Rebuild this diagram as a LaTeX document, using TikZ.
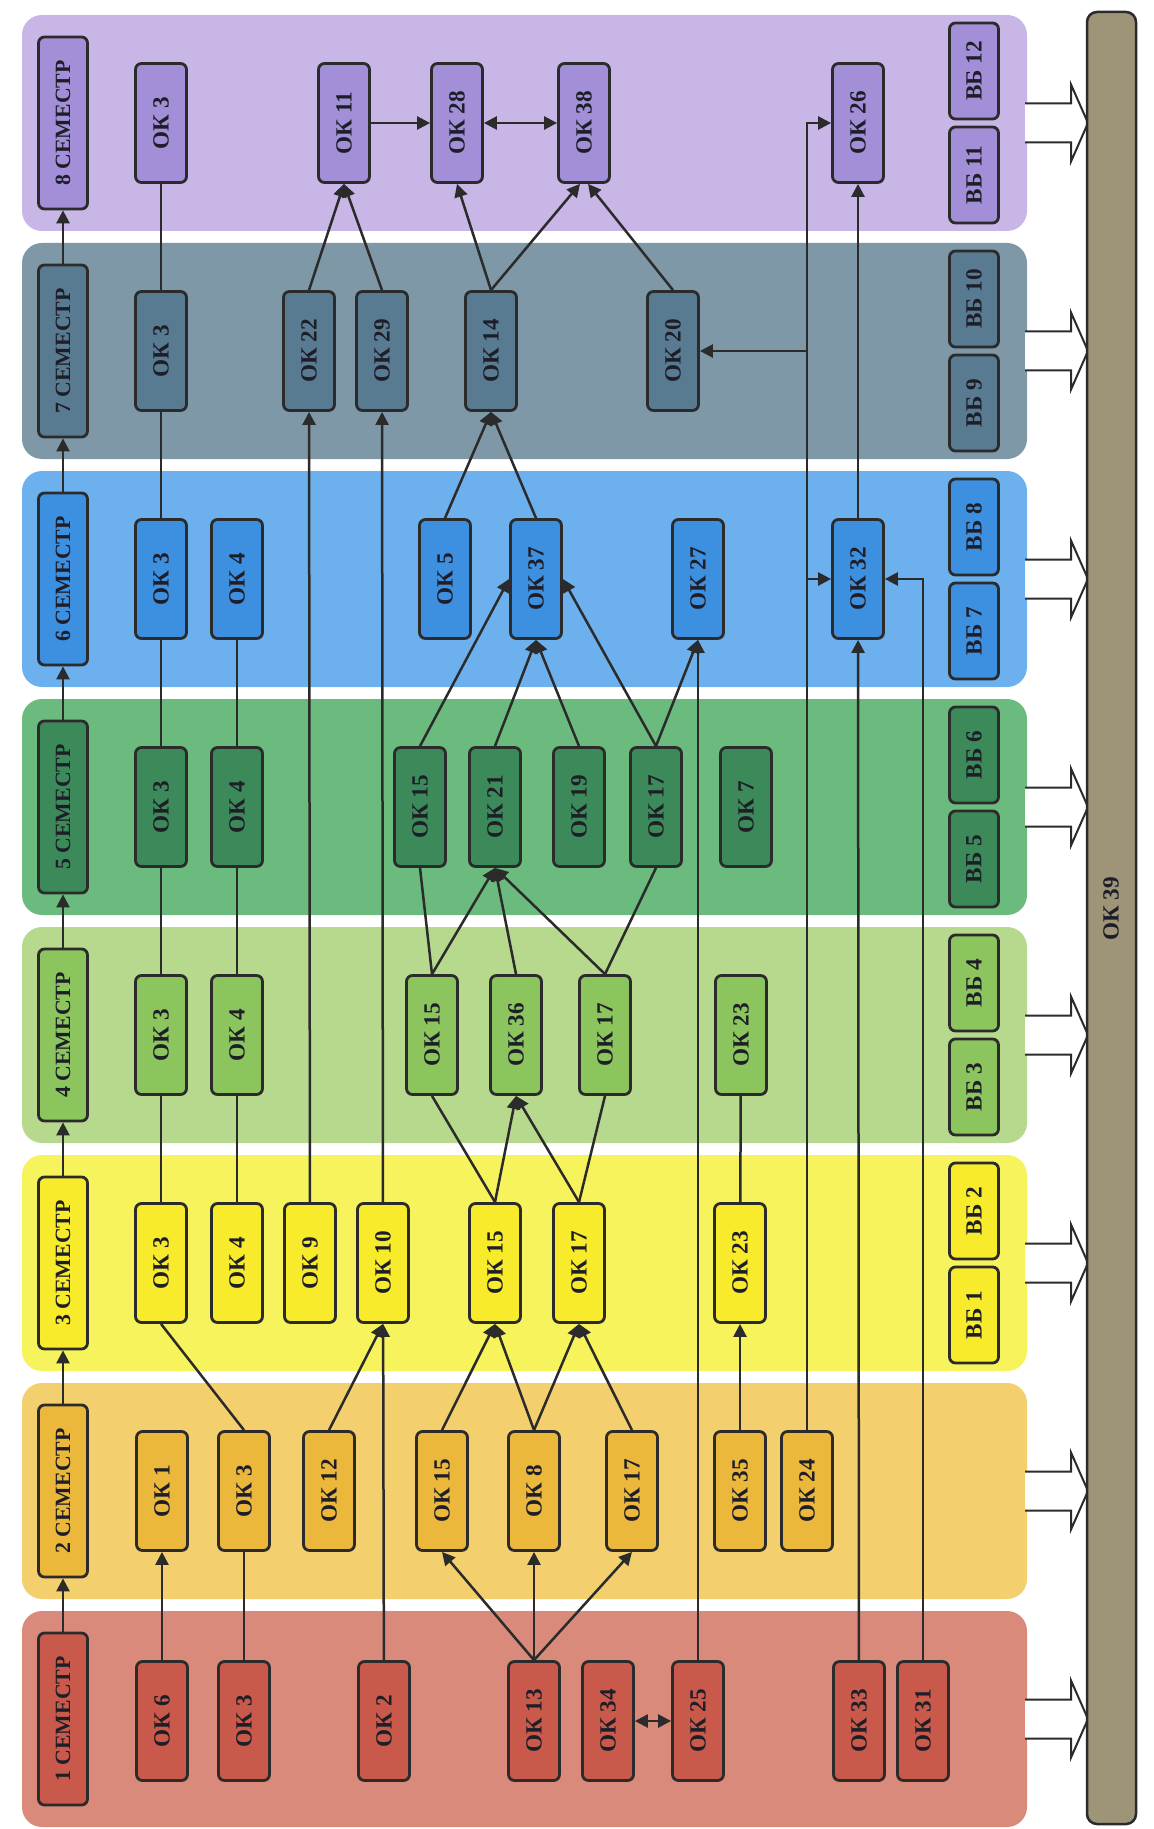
\documentclass[tikz,border=0pt]{standalone}
\usepackage{fontspec}
\setmainfont{Liberation Serif}
\usepackage{graphicx}
\usepackage{tikz}
\usetikzlibrary{arrows.meta,calc}

\definecolor{band1}{HTML}{D98A7A}
\definecolor{band2}{HTML}{F3CF6E}
\definecolor{band3}{HTML}{F7F35C}
\definecolor{band4}{HTML}{B6D98E}
\definecolor{band5}{HTML}{6CBB7E}
\definecolor{band6}{HTML}{6CB0EE}
\definecolor{band7}{HTML}{7E98A8}
\definecolor{band8}{HTML}{C7B6E6}
\definecolor{node1}{HTML}{C95A4B}
\definecolor{node2}{HTML}{ECB83C}
\definecolor{node3}{HTML}{F7EB2B}
\definecolor{node4}{HTML}{8CC55E}
\definecolor{node5}{HTML}{3C8A5A}
\definecolor{node6}{HTML}{3D8FE0}
\definecolor{node7}{HTML}{587B92}
\definecolor{node8}{HTML}{A38FD8}
\definecolor{barcol}{HTML}{9E9578}
\definecolor{edge}{HTML}{2B2B2B}
\definecolor{txt}{HTML}{1E1E28}

\newcommand{\okfont}{\fontsize{6.6}{7}\selectfont\bfseries}
\newcommand{\semfont}{\fontsize{6.2}{7}\selectfont\bfseries}

\tikzstyle{okbox}=[draw=edge, line width=0.28mm, rounded corners=0.6mm, minimum width=5.1mm, minimum height=11.9mm, inner sep=0pt, font=\okfont, text=txt]
\tikzstyle{sembox}=[okbox, minimum width=4.9mm, minimum height=17.2mm, font=\semfont]
\tikzstyle{vbbox}=[okbox, minimum width=4.9mm, minimum height=9.6mm]
\tikzstyle{band}=[rounded corners=2mm]
\tikzstyle{link}=[line width=0.25mm, draw=edge]
\tikzstyle{arr}=[link, -{Triangle[length=1.3mm,width=1.3mm]}]
\tikzstyle{darr}=[link, {Triangle[length=1.3mm,width=1.3mm]}-{Triangle[length=1.3mm,width=1.3mm]}]
\tikzstyle{hollow}=[draw=edge, line width=0.2mm, fill=white]

\newcommand{\okNbox}[5]{
	\node[okbox, fill=#1] (#2) at (#3,#4) {\rotatebox{90}{#5}};
}

\begin{document}
\begin{tikzpicture}[x=0.1mm, y=-0.1mm]
	\useasboundingbox (0,0) rectangle (1154,1829);
	\foreach \k/\yy in {1/1719,2/1491,3/1263,4/1035,5/807,6/579,7/351,8/123}{
		\fill[band, fill=band\k] (22,\yy-108) rectangle (1027,\yy+108);
		\draw[hollow] (1025,\yy-19.5) -- (1071,\yy-19.5) -- (1071,\yy-38.5) -- (1088,\yy) -- (1071,\yy+38.5) -- (1071,\yy+19.5) -- (1025,\yy+19.5);
		\node[sembox, fill=node\k] (s\k) at (63,\yy) {\rotatebox{90}{\k\ СЕМЕСТР}};
	}
	\foreach \k/\yy in {3/1263,4/1035,5/807,6/579,7/351,8/123}{
		\pgfmathtruncatemacro{\va}{2*\k-5}
		\pgfmathtruncatemacro{\vb}{2*\k-4}
		\node[vbbox, fill=node\k] (vb\va) at (974,\yy+52) {\rotatebox{90}{ВБ \va}};
		\node[vbbox, fill=node\k] (vb\vb) at (974,\yy-52) {\rotatebox{90}{ВБ \vb}};
	}
	\draw[draw=edge, line width=0.25mm, fill=barcol, rounded corners=1mm] (1087,12) rectangle (1136,1824);
	\node[font=\okfont, text=txt] (ok39) at (1111,909) {\rotatebox{90}{ОК 39}};

	\okNbox{node8}{b8ok3}{161}{123}{ОК 3}
	\okNbox{node8}{ok11}{344}{123}{ОК 11}
	\okNbox{node8}{ok28}{457}{123}{ОК 28}
	\okNbox{node8}{ok38}{584}{123}{ОК 38}
	\okNbox{node8}{ok26}{858}{123}{ОК 26}

	\okNbox{node7}{b7ok3}{161}{351}{ОК 3}
	\okNbox{node7}{ok22}{309}{351}{ОК 22}
	\okNbox{node7}{ok29}{382}{351}{ОК 29}
	\okNbox{node7}{ok14}{491}{351}{ОК 14}
	\okNbox{node7}{ok20}{673}{351}{ОК 20}

	\okNbox{node6}{b6ok3}{161}{579}{ОК 3}
	\okNbox{node6}{b6ok4}{237}{579}{ОК 4}
	\okNbox{node6}{ok5}{445}{579}{ОК 5}
	\okNbox{node6}{ok37}{536}{579}{ОК 37}
	\okNbox{node6}{ok27}{698}{579}{ОК 27}
	\okNbox{node6}{ok32}{858}{579}{ОК 32}

	\okNbox{node5}{b5ok3}{161}{807}{ОК 3}
	\okNbox{node5}{b5ok4}{237}{807}{ОК 4}
	\okNbox{node5}{b5ok15}{420}{807}{ОК 15}
	\okNbox{node5}{ok21}{495}{807}{ОК 21}
	\okNbox{node5}{ok19}{579}{807}{ОК 19}
	\okNbox{node5}{b5ok17}{656}{807}{ОК 17}
	\okNbox{node5}{ok7}{746}{807}{ОК 7}

	\okNbox{node4}{b4ok3}{161}{1035}{ОК 3}
	\okNbox{node4}{b4ok4}{237}{1035}{ОК 4}
	\okNbox{node4}{b4ok15}{432}{1035}{ОК 15}
	\okNbox{node4}{ok36}{516}{1035}{ОК 36}
	\okNbox{node4}{b4ok17}{605}{1035}{ОК 17}
	\okNbox{node4}{b4ok23}{741}{1035}{ОК 23}

	\okNbox{node3}{b3ok3}{161}{1263}{ОК 3}
	\okNbox{node3}{b3ok4}{237}{1263}{ОК 4}
	\okNbox{node3}{ok9}{310}{1263}{ОК 9}
	\okNbox{node3}{ok10}{383}{1263}{ОК 10}
	\okNbox{node3}{b3ok15}{495}{1263}{ОК 15}
	\okNbox{node3}{b3ok17}{579}{1263}{ОК 17}
	\okNbox{node3}{b3ok23}{740}{1263}{ОК 23}

	\okNbox{node2}{ok1}{162}{1491}{ОК 1}
	\okNbox{node2}{b2ok3}{244}{1491}{ОК 3}
	\okNbox{node2}{ok12}{329}{1491}{ОК 12}
	\okNbox{node2}{b2ok15}{442}{1491}{ОК 15}
	\okNbox{node2}{ok8}{534}{1491}{ОК 8}
	\okNbox{node2}{b2ok17}{632}{1491}{ОК 17}
	\okNbox{node2}{ok35}{740}{1491}{ОК 35}
	\okNbox{node2}{ok24}{807}{1491}{ОК 24}

	\okNbox{node1}{ok6}{162}{1721}{ОК 6}
	\okNbox{node1}{b1ok3}{244}{1721}{ОК 3}
	\okNbox{node1}{ok2}{384}{1721}{ОК 2}
	\okNbox{node1}{ok13}{534}{1721}{ОК 13}
	\okNbox{node1}{ok34}{608}{1721}{ОК 34}
	\okNbox{node1}{ok25}{698}{1721}{ОК 25}
	\okNbox{node1}{ok33}{859}{1721}{ОК 33}
	\okNbox{node1}{ok31}{923}{1721}{ОК 31}

	\foreach \k/\j in {1/2,2/3,3/4,4/5,5/6,6/7,7/8}
		\draw[arr] (s\k) -- (s\j);

	\draw[arr] (ok6) -- (ok1);
	\draw[link] (b1ok3) -- (b2ok3);
	\draw[arr] (ok13.north) -- (b2ok15.south);
	\draw[arr] (ok13.north) -- (ok8.south);
	\draw[arr] (ok13.north) -- (b2ok17.south);
	\draw[darr] (ok34) -- (ok25);
	\draw[arr] (ok2) -- (ok10);
	\draw[arr] (ok25) -- (ok27);
	\draw[arr] (ok33) -- (ok32);
	\draw[arr] (ok31.north) |- (ok32.east);
	\draw[arr] (ok24.north) |- (ok26.west);
	\draw[arr] (ok24.north |- ok32.west) -- (ok32.west);
	\draw[arr] (ok24.north |- ok20.east) -- (ok20.east);

	\draw[link] (b2ok3.north) -- (b3ok3.south);
	\draw[arr] (ok12.north) -- (ok10.south);
	\draw[arr] (b2ok15.north) -- (b3ok15.south);
	\draw[arr] (ok8.north) -- (b3ok15.south);
	\draw[arr] (ok8.north) -- (b3ok17.south);
	\draw[arr] (b2ok17.north) -- (b3ok17.south);
	\draw[arr] (ok35) -- (b3ok23);

	\draw[link] (b3ok3) -- (b4ok3);
	\draw[link] (b3ok4) -- (b4ok4);
	\draw[link] (b3ok23) -- (b4ok23);
	\draw[arr] (ok9) -- (ok22);
	\draw[arr] (ok10) -- (ok29);
	\draw[arr] (b3ok15.north) -- (ok36.south);
	\draw[arr] (b3ok17.north) -- (ok36.south);
	\draw[link] (b3ok15.north) -- (b4ok15.south);
	\draw[link] (b3ok17.north) -- (b4ok17.south);

	\draw[link] (b4ok3) -- (b5ok3);
	\draw[link] (b4ok4) -- (b5ok4);
	\draw[link] (b4ok15.north) -- (b5ok15.south);
	\draw[arr] (b4ok15.north) -- (ok21.south);
	\draw[arr] (ok36.north) -- (ok21.south);
	\draw[arr] (b4ok17.north) -- (ok21.south);
	\draw[link] (b4ok17.north) -- (b5ok17.south);

	\draw[link] (b5ok3) -- (b6ok3);
	\draw[link] (b5ok4) -- (b6ok4);
	\draw[arr] (b5ok15.north) -- (ok37.west);
	\draw[arr] (ok21.north) -- (ok37.south);
	\draw[arr] (ok19.north) -- (ok37.south);
	\draw[arr] (b5ok17.north) -- (ok37.east);
	\draw[arr] (b5ok17.north) -- (ok27.south);

	\draw[link] (b6ok3) -- (b7ok3);
	\draw[arr] (ok5.north) -- (ok14.south);
	\draw[arr] (ok37.north) -- (ok14.south);
	\draw[arr] (ok32) -- (ok26);

	\draw[link] (b7ok3) -- (b8ok3);
	\draw[arr] (ok22.north) -- (ok11.south);
	\draw[arr] (ok29.north) -- (ok11.south);
	\draw[arr] (ok14.north) -- (ok28.south);
	\draw[arr] (ok14.north) -- ([xshift=-0.4mm]ok38.south);
	\draw[arr] (ok20.north) -- ([xshift=0.4mm]ok38.south);
	\draw[arr] (ok11) -- (ok28);
	\draw[darr] (ok28) -- (ok38);
\end{tikzpicture}
\end{document}
